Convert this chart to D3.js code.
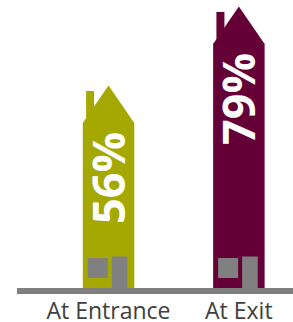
<!DOCTYPE html>
<html>
<head>
<meta charset="utf-8">
<script src="https://cdn.jsdelivr.net/npm/d3@7.9.0/dist/d3.min.js"></script>
<style>
  html, body { margin: 0; padding: 0; background: #fff; }
  svg { display: block; font-family: "Open Sans", sans-serif; }
</style>
</head>
<body>
<div id="chart"></div>
<script>
// data
const categories = ["At Entrance", "At Exit"];
const values = [56, 79];
const colors = ["#a5a800", "#650036"];

const width = 293, height = 322;
const ground = 288;
const roofH = 37;

const svg = d3.select("#chart").append("svg")
  .attr("width", width)
  .attr("height", height);

const x = d3.scaleBand()
  .domain(categories)
  .range([43.7, 303.7])
  .paddingInner(0.605)
  .paddingOuter(0.3);

// apex of each house sits at y(value)
const y = d3.scaleLinear()
  .domain([0, 80])
  .range([ground - 10, 3]);

const data = categories.map((c, i) => ({ cat: c, value: values[i], color: colors[i] }));
const bw = x.bandwidth();

const houses = svg.selectAll("g.house")
  .data(data)
  .join("g")
  .attr("class", "house")
  .attr("transform", d => `translate(${x(d.cat)},0)`);

// chimney
houses.append("rect")
  .attr("x", 3.3)
  .attr("y", d => y(d.value) + 5.5)
  .attr("width", 8)
  .attr("height", roofH)
  .attr("fill", d => d.color);

// roof
houses.append("path")
  .attr("d", d => {
    const top = y(d.value), sh = top + roofH;
    return `M0,${sh + 0.5}L${bw / 2},${top}L${bw},${sh + 0.5}Z`;
  })
  .attr("fill", d => d.color);

// body
houses.append("rect")
  .attr("x", 0)
  .attr("y", d => y(d.value) + roofH)
  .attr("width", bw)
  .attr("height", d => ground - y(d.value) - roofH)
  .attr("fill", d => d.color);

// window
houses.append("rect")
  .attr("x", 5)
  .attr("y", ground - 30)
  .attr("width", 20)
  .attr("height", 20)
  .attr("fill", "#808080");

// door
houses.append("rect")
  .attr("x", 29)
  .attr("y", ground - 31.5)
  .attr("width", 15.6)
  .attr("height", 31.5)
  .attr("fill", "#808080");

// value labels, rotated
houses.append("text")
  .attr("transform", d => `translate(${bw / 2 + 16.5},${y(d.value) + roofH + 9.5}) rotate(-90)`)
  .attr("text-anchor", "end")
  .attr("fill", "#fff")
  .attr("font-weight", "bold")
  .attr("font-size", 45)
  .text(d => d.value + "%");

// ground line
svg.append("line")
  .attr("x1", 17)
  .attr("x2", width)
  .attr("y1", ground + 3)
  .attr("y2", ground + 3)
  .attr("stroke", "#808080")
  .attr("stroke-width", 6);

// category labels
svg.selectAll("text.cat")
  .data(categories)
  .join("text")
  .attr("class", "cat")
  .attr("x", d => x(d) + bw / 2)
  .attr("y", 319)
  .attr("text-anchor", "middle")
  .attr("fill", "#404040")
  .attr("font-size", 23)
  .text(d => d);
</script>
</body>
</html>
